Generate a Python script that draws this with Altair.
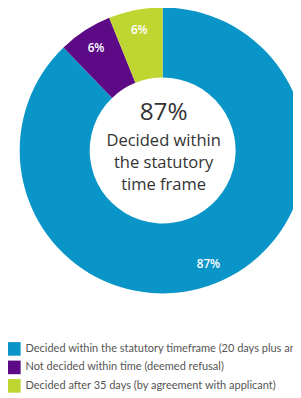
import altair as alt
import pandas as pd

categories = [
    "Decided within the statutory timeframe (20 days plus any extension)",
    "Not decided within time (deemed refusal)",
    "Decided after 35 days (by agreement with applicant)",
]
values = [87.8, 6.1, 6.1]
labels = ["87%", "6%", "6%"]
colors = ["#0A95C8", "#5C0A86", "#BFD532"]
center_big = "87%"
center_text = "Decided within\nthe statutory\ntime frame"

df = pd.DataFrame({
    "category": categories,
    "value": values,
    "label": labels,
    "order": [0, 1, 2],
})

CX, CY = 159, 141
FONT = "Open Sans"

base = alt.Chart(df).encode(
    theta=alt.Theta("value:Q", stack=True),
    order=alt.Order("order:Q"),
)

color = alt.Color(
    "category:N",
    scale=alt.Scale(domain=categories, range=colors),
    sort=categories,
    legend=alt.Legend(
        title=None,
        orient="none",
        legendX=-1,
        legendY=338,
        symbolType="square",
        symbolSize=196,
        symbolStrokeWidth=0,
        rowPadding=5,
        labelOffset=5,
        labelFontSize=11.3,
        labelFont="Lato",
        labelColor="#555555",
        labelLimit=1000,
        padding=0,
    ),
)

arcs = base.mark_arc(radius=147, radius2=75, stroke=None).encode(
    color=color,
    x=alt.value(CX),
    y=alt.value(CY),
)

arc_labels = base.mark_text(
    radius=126, fontSize=12, font=FONT, color="white", fontWeight=600
).encode(
    text="label:N",
    x=alt.value(CX),
    y=alt.value(CY),
)

center_df = pd.DataFrame({"big": [center_big], "small": [center_text]})

big = alt.Chart(center_df).mark_text(
    fontSize=25, font=FONT, color="#333333", baseline="middle"
).encode(text="big:N", x=alt.value(CX + 1), y=alt.value(CY - 39))

small = alt.Chart(center_df).mark_text(
    fontSize=17, font=FONT, color="#333333", baseline="middle",
    lineBreak="\n", lineHeight=23,
).encode(text="small:N", x=alt.value(CX + 1), y=alt.value(CY - 10))

chart = alt.layer(arcs, arc_labels, big, small).properties(
    width=293, height=390, padding=0, autosize=alt.AutoSizeParams(type="none")
).configure_view(stroke=None)

chart.save("out.html", embed_options={"renderer": "svg", "actions": False})
